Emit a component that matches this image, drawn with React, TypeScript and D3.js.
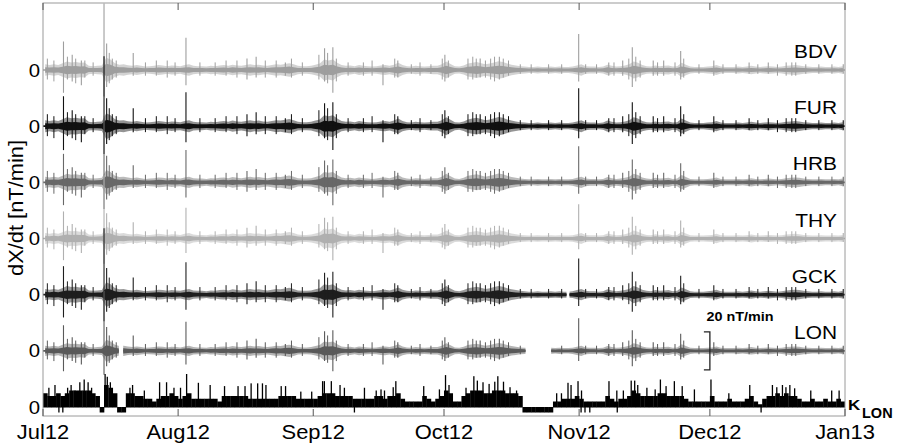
import React from 'react';
import * as d3 from 'd3';

// layout of the figure
const W = 897;
const H = 445;
const box = { left: 43, right: 845, top: 3, bottom: 416 };

const stations = ['BDV', 'FUR', 'HRB', 'THY', 'GCK', 'LON'];
const stationColors = ['#9e9e9e', '#111111', '#686868', '#b0b0b0', '#1e1e1e', '#5a5a5a'];
const stationGain = [1.0, 1.05, 1.0, 0.95, 1.0, 0.9];

// data gaps [startDay, endDay] (days since 1 Jul 2012)
const stationGaps: number[][][] = [[], [], [], [], [[120.1, 120.8]], [[17.4, 18.4], [110.7, 116.6]]];

// daily envelope of dX/dt activity (nT/min), 1 Jul 2012 .. 1 Jan 2013
const activity = [
  3, 2.6, 3, 2.6, 3.5, 4.5, 4, 4.2, 3.8, 4,
  2.2, 2.0, 2.2, 2.4, 6.5, 5.5, 3.5, 2.8, 3, 2.5,
  2.2, 2.6, 2.2, 1.8, 2.0, 2.2, 2.6, 2.4, 2.0, 2.4,
  2.2, 2.0, 2.6, 3.0, 2.2, 2.0, 2.0, 1.8, 2.2, 2.0,
  2.4, 2.6, 2.2, 2.8, 2.4, 2.2, 2.6, 3.0, 2.6, 2.8,
  2.4, 2.2, 2.6, 3.0, 2.8, 3.2, 3.6, 3.0, 2.2, 2.0,
  2.0, 2.2, 2.8, 3.4, 5.5, 5.0, 5.5, 3.8, 2.6, 2.2,
  2.4, 2.0, 2.6, 2.2, 2.0, 1.8, 2.0, 2.4, 2.6, 2.2,
  2.8, 3.8, 2.6, 2.0, 1.8, 2.2, 2.0, 1.8, 2.0, 2.2,
  2.2, 3.0, 4.5, 3.2, 2.0, 1.8, 2.4, 3.4, 3.8, 4.2,
  3.6, 3.0, 3.4, 4.0, 4.6, 4.2, 3.4, 2.8, 2.4, 2.0,
  1.8, 1.6, 1.6, 1.8, 1.6, 1.6, 1.8, 1.6, 1.8, 1.6,
  1.6, 1.8, 2.4, 3.0, 2.0, 1.8, 1.8, 1.6, 1.8, 2.8,
  2.2, 1.8, 2.0, 2.4, 3.0, 4.5, 3.8, 2.6, 2.0, 1.8,
  2.4, 2.0, 2.2, 2.4, 1.8, 2.0, 3.8, 2.8, 1.8, 1.6,
  1.6, 1.6, 1.8, 2.0, 2.6, 1.8, 1.6, 1.6, 1.6, 1.8,
  1.6, 1.8, 2.2, 1.8, 1.6, 1.8, 2.0, 1.8, 1.6, 1.8,
  2.2, 2.4, 2.6, 2.4, 2.0, 1.8, 1.6, 1.6, 1.8, 1.6,
  1.6, 1.8, 1.6, 2.0,
];

// large isolated spikes: [day, up nT/min, down nT/min]
const spikes = [
  [4.7, 15, 12], [6.7, 8, 6], [8.8, 5, 8], [14.0, 35, 14], [14.6, 14, 9],
  [20.7, 9, 3], [32.8, 17, 8], [46.8, 6, 5], [48.9, 7, 4], [55.6, 4, 3],
  [64.6, 11.5, 6], [66.5, 12, 12], [78.0, 3, 8], [81.4, 5, 4], [92.2, 8, 6],
  [100.3, 6, 4], [104.7, 7, 5], [122.9, 19, 6], [129.8, 4, 3], [133.0, 5, 3],
  [135.2, 12, 9], [140.0, 5, 3], [142.4, 5, 3], [146.3, 10, 5], [153.9, 5, 3],
  [162.0, 4, 2], [166.4, 4, 2], [183.6, 3, 2],
];

// smaller bursts seen along the traces: [day, up, down]
const minorSpikes = [
  [1.0, 6, 5], [2.5, 5, 6], [5.6, 7, 5], [7.5, 6, 7], [9.6, 5, 4], [11.5, 4, 3], [15.2, 9, 7],
  [15.9, 6, 5], [16.8, 5, 4], [23.5, 4, 3], [26.0, 5, 3], [28.5, 5, 4], [30.3, 4, 3],
  [36.0, 4, 3], [39.5, 4, 3], [42.0, 5, 3], [44.5, 5, 4], [51.0, 5, 4], [53.5, 5, 4],
  [57.0, 6, 4], [59.5, 4, 3], [63.3, 8, 5], [65.3, 9, 7], [67.3, 6, 6], [70.0, 4, 3],
  [73.5, 4, 3], [75.5, 5, 3], [80.7, 6, 4], [84.5, 3, 2], [86.5, 4, 3], [89.0, 3, 2],
  [91.6, 6, 5], [93.0, 5, 4], [97.5, 6, 5], [98.6, 7, 5], [99.4, 6, 4], [101.5, 5, 4],
  [102.7, 6, 5], [103.6, 7, 6], [105.6, 6, 4], [106.8, 5, 3], [109.5, 3, 2], [112.0, 3, 2],
  [116.0, 3, 2], [119.0, 3, 2], [124.5, 3, 2], [127.0, 3, 2], [131.0, 4, 3], [134.4, 6, 5],
  [136.0, 7, 6], [137.0, 5, 4], [141.0, 4, 3], [145.0, 4, 3], [147.0, 6, 4], [150.5, 3, 2],
  [156.0, 3, 2], [159.0, 3, 2], [164.0, 3, 2], [168.5, 3, 3], [170.5, 4, 3], [171.8, 4, 3],
  [172.7, 4, 3], [175.0, 3, 2], [178.0, 3, 2], [181.0, 3, 2],
];

// K index at LON: daily level (-1 = missing) and individual 3-hour peaks
const kDaily = [
  2.5, 2, 2, 2.5, 2, 2.5, 3, 3, 3, 3,
  3, 2.5, 2, -1, 4, 3.5, 2.5, -1, -1, 2.5,
  2.5, 2, 2, 1.5, 1.5, 1, 1.5, 2, 2, 2.5,
  2, 1.5, 2, 2.5, 1.5, 1.5, 1.5, 1.5, 1.5, 1.5,
  1, 2, 2, 2, 2, 2, 2, 1.5, 1.5, 1.5,
  1.5, 1.5, 1.5, 1.5, 2, 2, 2, 2, 1.5, 1.5,
  1.5, 1.5, 1.5, 2, 2.5, 2.5, 2.5, 2, 2, 2,
  2, 1.5, 1.5, 1.5, 1.5, 1.5, 2, 2, 1.5, 2,
  2, 2.5, 1.5, 1, 1, 1, 1, 2, 1.5, 1,
  1.5, 2, 3, 2.5, 1, 1, 2, 2.5, 3, 3,
  3, 2.5, 2.5, 3, 3, 3, 2.5, 2.5, 2.5, 2,
  -1, -1, -1, -1, -1, -1, -1, 1, 1, 1.5,
  1.5, 1.5, 2, 1.5, 1, 1, 1, 1, 1, 2,
  1.5, 1, 1.5, 1.5, 2, 3, 2.5, 2, 2, 2,
  2, 2.5, 2.5, 2, 2, 2, 2, 1.5, 1, 1,
  1, 1, 1, 2, 1, 1, 1, 1.5, 1, 1,
  1, 1.5, 2, 1, 0.5, 1.5, 2, 2, 2.5, 2,
  2.5, 2, 2, 1.5, 1, 1, 1.5, 1, 1, 1.5,
  1, 1, 1.5, 1,
];

const kPeaks = [
  [1.2, 3.5], [2.6, 4], [5.5, 3.5], [6.3, 4], [7.2, 3], [8.3, 4.5], [9.3, 5], [10.2, 4.5],
  [11.0, 3.5], [14.1, 6], [14.6, 5.5], [15.3, 4.5], [19.8, 3.5], [20.4, 4], [23.1, 3],
  [26.6, 4.5], [28.2, 4.5], [29.9, 3.5], [31.4, 3.5], [32.8, 6], [35.5, 4.4], [38.2, 4],
  [41.5, 3.8], [44.6, 3.8], [46.2, 3.8], [47.6, 4.3], [49.1, 4.3], [50.2, 4.3], [51.0, 4],
  [54.5, 3.8], [55.5, 3.8], [59.0, 2.8], [61.5, 2.8], [64.0, 4.7], [64.4, 4.7], [66.0, 4.7],
  [68.0, 4], [69.0, 3.5], [73.6, 3.5], [76.3, 3], [77.4, 3.2], [78.2, 3], [80.2, 3.6],
  [80.8, 4.7], [87.2, 3.8], [90.8, 3.2], [92.2, 5.8], [93.0, 4], [96.9, 3.5], [98.7, 5.6],
  [99.5, 4.8], [100.8, 4.5], [102.2, 4.2], [103.5, 4.6], [104.2, 5.6], [105.5, 4.6],
  [107.0, 3.6], [108.5, 3], [117.7, 2.5], [118.8, 2.5], [120.3, 4.4], [121.0, 4], [122.6, 4.7],
  [123.4, 3], [129.7, 4.7], [131.5, 3], [133.0, 3], [134.8, 4.8], [135.6, 4.8], [136.3, 4],
  [138.4, 3.5], [140.3, 3.2], [141.5, 5], [142.8, 3.8], [144.7, 4.7], [146.5, 3.8], [149.3, 3.2],
  [153.1, 5], [157.2, 2.5], [162.0, 4], [167.2, 4], [168.2, 3.6], [169.5, 4], [170.3, 3.6],
  [171.2, 4], [172.3, 3.4], [176.0, 3], [180.8, 3], [182.5, 3],
  [3.5, -1], [4.4, -1], [71.3, -1], [123.3, -1], [124.2, -1], [125.3, -1], [131.6, -1], [164.6, -1],
];

const t0 = Date.UTC(2012, 6, 1);
const t1 = Date.UTC(2013, 0, 1);
const dayDate = (d: number) => new Date(t0 + d * 864e5);

const x = d3.scaleUtc().domain([t0, t1]).range([box.left, box.right]);
const track = d3.scalePoint<string>().domain([...stations, 'K']).range([70, 407]);
const amp = d3.scaleLinear().domain([0, 20]).range([0, 38]);
const kH = d3.scaleLinear().domain([0, 1]).range([0, 5.5]);

const monthDates = d3.utcMonths(new Date(t0), new Date(t1 + 864e5));
const fmtMonth = d3.utcFormat('%b%y');

const FONT = '"Liberation Sans", Arial, Helvetica, sans-serif';

const Txt: React.FC<{ x: number; y: number; sx?: number; size: number; anchor?: string; bold?: boolean; children: React.ReactNode }> = ({ x, y, sx = 1.1, size, anchor = 'start', bold, children }) => (
  <text transform={`translate(${x},${y}) scale(${sx},1)`} fontSize={size} textAnchor={anchor} fontWeight={bold ? 'bold' : 'normal'} fontFamily={FONT} fill="#000">
    {children}
  </text>
);

const StationTrace: React.FC<{ i: number }> = ({ i }) => {
  const name = stations[i];
  const base = track(name)!;
  const g = stationGain[i];
  const color = stationColors[i];
  const days = d3.range(activity.length);
  const band = (f: number) => d3.area<number>()
    .x(d => x(dayDate(d + 0.5)))
    .y0(d => base + amp(activity[d] * g * f))
    .y1(d => base - amp(activity[d] * g * f));
  // visible segments = complement of gaps
  const segs: number[][] = [];
  let s = -1;
  stationGaps[i].forEach(([a, b]) => { segs.push([s, a]); s = b; });
  segs.push([s, 186]);
  const clipId = `clip-${name}`;
  return (
    <g>
      <clipPath id={clipId}>
        {segs.map(([a, b], k) => (
          <rect key={k} x={x(dayDate(a))} y={box.top} width={x(dayDate(b)) - x(dayDate(a))} height={box.bottom - box.top} />
        ))}
      </clipPath>
      <g clipPath={`url(#${clipId})`}>
        <path d={band(1)(days)!} fill={color} opacity={0.45} />
        <path d={band(0.5)(days)!} fill={color} />
        <line x1={box.left} x2={box.right} y1={base} y2={base} stroke={color} strokeWidth={1.6} />
        {minorSpikes.map(([d, up, dn], k) => (
          <line key={`m${k}`} x1={x(dayDate(d))} x2={x(dayDate(d))} y1={base - amp(up * g)} y2={base + amp(dn * g)} stroke={color} strokeWidth={1} />
        ))}
        {spikes.map(([d, up, dn], k) => (
          <line key={k} x1={x(dayDate(d))} x2={x(dayDate(d))} y1={base - amp(up * g)} y2={base + amp(dn * g)} stroke={color} strokeWidth={1.1} />
        ))}
      </g>
    </g>
  );
};

const KIndex: React.FC = () => {
  const base = track('K')!;
  return (
    <g fill="#000">
      {kDaily.map((k, d) => {
        const x0 = x(dayDate(d));
        const w = x(dayDate(d + 1)) - x0 + 0.3;
        const y0 = k >= 0 ? base - kH(k) : base;
        return <rect key={d} x={x0} y={y0} width={w} height={Math.abs(kH(k)) + (k >= 0 ? 0.5 : 0)} />;
      })}
      {kPeaks.map(([d, k], j) => (
        <rect key={`p${j}`} x={x(dayDate(d))} y={k >= 0 ? base - kH(k) : base} width={1.3} height={Math.abs(kH(k))} />
      ))}
    </g>
  );
};

export default function App() {
  const lonBase = track('LON')!;
  const scaleX = x(dayDate(153));
  return (
    <svg width={W} height={H} style={{ position: 'absolute', left: 0, top: 0, background: '#fff' }}>
      <rect x={0} y={0} width={W} height={H} fill="#fff" />
      <clipPath id="plot">
        <rect x={box.left} y={box.top} width={box.right - box.left} height={box.bottom - box.top} />
      </clipPath>
      <g clipPath="url(#plot)">
        {stations.map((s, i) => <StationTrace key={s} i={i} />)}
        <KIndex />
      </g>
      {/* frame and month ticks */}
      <rect x={box.left} y={box.top} width={box.right - box.left} height={box.bottom - box.top} fill="none" stroke="#9a9a9a" strokeWidth={1} />
      {monthDates.map((m, i) => (
        <g key={i}>
          <line x1={x(m)} x2={x(m)} y1={box.top} y2={box.top + 7} stroke="#555" strokeWidth={1} />
          <line x1={x(m)} x2={x(m)} y1={box.bottom} y2={box.bottom - 7} stroke="#555" strokeWidth={1} />
          <Txt x={x(m)} y={438.5} size={20.5} sx={1.07} anchor="middle">{fmtMonth(m)}</Txt>
        </g>
      ))}
      {/* zero labels */}
      {[...stations, 'K'].map(s => (
        <Txt key={s} x={40} y={track(s)! + 6.6} size={18.5} anchor="end">0</Txt>
      ))}
      {/* station names */}
      {stations.map(s => (
        <Txt key={s} x={837} y={track(s)! - 12} size={19} anchor="end">{s}</Txt>
      ))}
      {/* scale bar 20 nT/min */}
      <path d={`M${scaleX - 6},${lonBase - amp(10)}H${scaleX}V${lonBase + amp(10)}H${scaleX - 6}`} fill="none" stroke="#222" strokeWidth={1.3} />
      <Txt x={740} y={320.5} size={12.5} sx={1.15} anchor="middle" bold>20 nT/min</Txt>
      {/* K_LON */}
      <Txt x={848} y={410} size={15.5} sx={1.1} bold>K</Txt>
      <Txt x={862} y={417.5} size={14.5} sx={1.0} bold>LON</Txt>
      {/* y label */}
      <text transform="translate(23,208) rotate(-90)" fontSize={19.5} textAnchor="middle" fontFamily={FONT} textLength={136} lengthAdjust="spacingAndGlyphs">dX/dt [nT/min]</text>
    </svg>
  );
}
